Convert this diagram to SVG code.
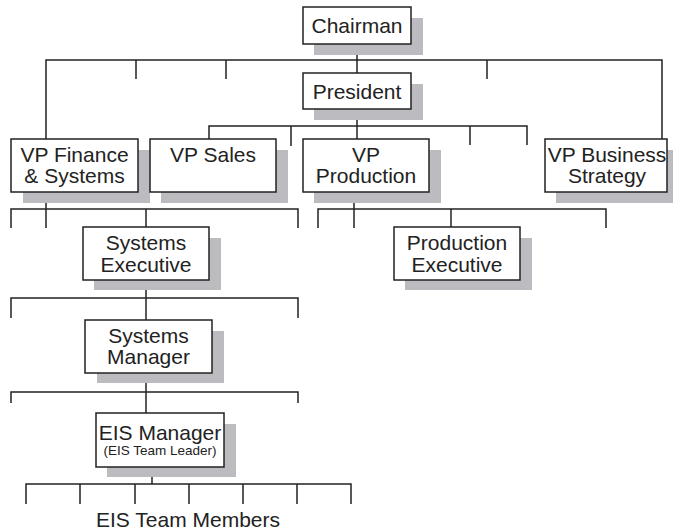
<svg xmlns="http://www.w3.org/2000/svg" width="673" height="531" viewBox="0 0 673 531">
  <style>
    .shadow { fill: #bcbcc0; }
    .box { fill: #ffffff; stroke: #222222; stroke-width: 1.5; }
    .lbl { font-family: "Liberation Sans", Arial, sans-serif; font-size: 21px; fill: #222222; text-anchor: middle; }
    .sub { font-size: 13.5px; }
    .wire { fill: none; stroke: #222222; stroke-width: 1.5; }
  </style>

  <!-- reporting lines -->
  <g id="connectors" class="wire">
    <!-- Chairman tier -->
    <path d="M357 44 V73"/>
    <path d="M46 139 V60 H662 V139"/>
    <path d="M136 60 V79 M226 60 V79 M487 60 V79"/>
    <!-- President tier -->
    <path d="M357 109 V139"/>
    <path d="M209 139 V126 H527 V145"/>
    <path d="M291 126 V146 M470 126 V145"/>
    <!-- Finance branch -->
    <path d="M46 192 V228"/>
    <path d="M11 228 V209 H298 V228"/>
    <path d="M146 209 V227"/>
    <!-- Production branch -->
    <path d="M354 192 V228"/>
    <path d="M318 228 V209 H606 V228"/>
    <path d="M451 209 V227"/>
    <!-- Systems Executive to Manager -->
    <path d="M146 280 V320"/>
    <path d="M11 318 V298 H298 V318"/>
    <!-- Systems Manager to EIS Manager -->
    <path d="M146 373 V413"/>
    <path d="M11 403 V392 H298 V403"/>
    <!-- EIS team -->
    <path d="M152 467 V484"/>
    <path d="M26 504 V484 H351 V504"/>
    <path d="M80 484 V504 M135 484 V504 M189 484 V504 M243 484 V504 M297 484 V504"/>
  </g>

  <g id="chairman">
    <rect class="shadow" x="314" y="18" width="109" height="37"/>
    <rect class="box" x="303" y="7" width="108" height="37"/>
    <text class="lbl" x="357" y="33">Chairman</text>
  </g>

  <g id="president">
    <rect class="shadow" x="314" y="84" width="109" height="36"/>
    <rect class="box" x="303" y="73" width="108" height="36"/>
    <text class="lbl" x="357" y="99">President</text>
  </g>

  <g id="vp-finance">
    <rect class="shadow" x="23" y="150" width="127" height="53"/>
    <rect class="box" x="11" y="139" width="127" height="53"/>
    <text class="lbl" x="74.5" y="162">VP Finance</text>
    <text class="lbl" x="74.5" y="183">&amp; Systems</text>
  </g>

  <g id="vp-sales">
    <rect class="shadow" x="161" y="150" width="127" height="53"/>
    <rect class="box" x="150" y="139" width="126" height="53"/>
    <text class="lbl" x="213" y="162">VP Sales</text>
  </g>

  <g id="vp-production">
    <rect class="shadow" x="314" y="150" width="127" height="53"/>
    <rect class="box" x="303" y="139" width="126" height="53"/>
    <text class="lbl" x="366" y="162">VP</text>
    <text class="lbl" x="366" y="183">Production</text>
  </g>

  <g id="vp-business">
    <rect class="shadow" x="556" y="150" width="127" height="53"/>
    <rect class="box" x="545" y="139" width="122" height="53"/>
    <text class="lbl" x="607" y="162">VP Business</text>
    <text class="lbl" x="607" y="183">Strategy</text>
  </g>

  <g id="systems-executive">
    <rect class="shadow" x="94" y="238" width="127" height="52"/>
    <rect class="box" x="83" y="227" width="126" height="53"/>
    <text class="lbl" x="146" y="250">Systems</text>
    <text class="lbl" x="146" y="272">Executive</text>
  </g>

  <g id="production-executive">
    <rect class="shadow" x="405" y="238" width="127" height="52"/>
    <rect class="box" x="394" y="227" width="126" height="53"/>
    <text class="lbl" x="457" y="250">Production</text>
    <text class="lbl" x="457" y="272">Executive</text>
  </g>

  <g id="systems-manager">
    <rect class="shadow" x="97" y="331" width="127" height="52"/>
    <rect class="box" x="85" y="320" width="127" height="53"/>
    <text class="lbl" x="148.5" y="343">Systems</text>
    <text class="lbl" x="148.5" y="364">Manager</text>
  </g>

  <g id="eis-manager">
    <rect class="shadow" x="107" y="424" width="129" height="53"/>
    <rect class="box" x="96" y="413" width="128" height="54"/>
    <text class="lbl" x="160" y="440">EIS Manager</text>
    <text class="lbl sub" x="160" y="455">(EIS Team Leader)</text>
  </g>

  <g id="eis-team-members">
    <text class="lbl" x="188" y="527">EIS Team Members</text>
  </g>
</svg>
